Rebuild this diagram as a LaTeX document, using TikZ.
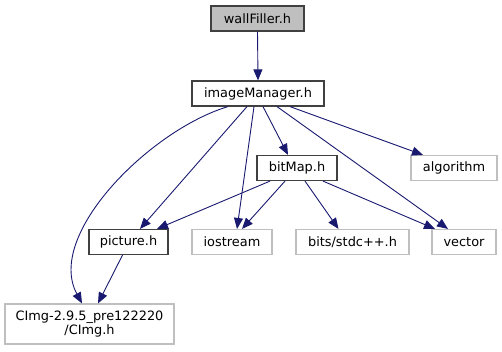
\documentclass[tikz,border=0pt]{standalone}
\usepackage{fontspec}
\setmainfont{DejaVu Sans}
\usetikzlibrary{arrows.meta}
\definecolor{edgeblue}{HTML}{191970}
\definecolor{lightgrey}{HTML}{BFBFBF}
\definecolor{darkgrey}{HTML}{404040}
\begin{document}
\begin{tikzpicture}[x=1pt,y=-1pt,
  every node/.style={font=\fontsize{12.9}{14}\selectfont, inner sep=0pt, align=center, text=black},
  filebox/.style={draw=darkgrey, line width=1.2pt, minimum height=25pt},
  extbox/.style={draw=lightgrey, line width=1.1pt, minimum height=25pt},
  rootbox/.style={filebox, fill=lightgrey},
  dep/.style={draw=edgeblue, line width=0.9pt, -{Triangle[length=11pt,width=9pt]}}]
  \useasboundingbox (0,0) rectangle (502,351);

  % files
  \node[rootbox, minimum width=93pt]  (wf)   at (257.5,18.5) {wallFiller.h};
  \node[filebox, minimum width=132pt] (im)   at (258,93.5)   {imageManager.h};
  \node[filebox, minimum width=80pt]  (bm)   at (297,168)    {bitMap.h};
  \node[extbox,  minimum width=86pt]  (alg)  at (454,168)    {algorithm};
  \node[filebox, minimum width=79pt]  (pic)  at (128.5,242)  {picture.h};
  \node[extbox,  minimum width=80pt]  (ios)  at (232,242)    {iostream};
  \node[extbox,  minimum width=113pt] (bits) at (352.5,242)  {bits/stdc++.h};
  \node[extbox,  minimum width=64pt]  (vec)  at (464,242)    {vector};
  \node[extbox,  minimum width=169pt, minimum height=40pt] (cimg) at (89.5,324)
    {CImg-2.9.5\_pre122220\\/CImg.h};

  % include edges
  \draw[dep] (wf.south) -- (im.north);
  \draw[dep] ([xshift=-30pt]im.south) .. controls (150,130) and (45,235) .. ([xshift=-7.5pt]cimg.north);
  \draw[dep] ([xshift=-11pt]im.south) -- ([xshift=11.5pt]pic.north);
  \draw[dep] ([xshift=-4pt]im.south) -- ([xshift=5pt]ios.north);
  \draw[dep] ([xshift=5pt]im.south) -- ([xshift=-9pt]bm.north);
  \draw[dep] ([xshift=19pt]im.south) -- ([xshift=-16pt]vec.north);
  \draw[dep] ([xshift=32pt]im.south) -- ([xshift=-31pt]alg.north);

  \draw[dep] ([xshift=-27pt]bm.south) -- ([xshift=28.5pt]pic.north);
  \draw[dep] ([xshift=-12pt]bm.south) -- ([xshift=10pt]ios.north);
  \draw[dep] ([xshift=8pt]bm.south) -- ([xshift=-14pt]bits.north);
  \draw[dep] ([xshift=26pt]bm.south) -- ([xshift=-29pt]vec.north);

  \draw[dep] ([xshift=-6pt]pic.south) -- ([xshift=8.5pt]cimg.north);
\end{tikzpicture}
\end{document}
